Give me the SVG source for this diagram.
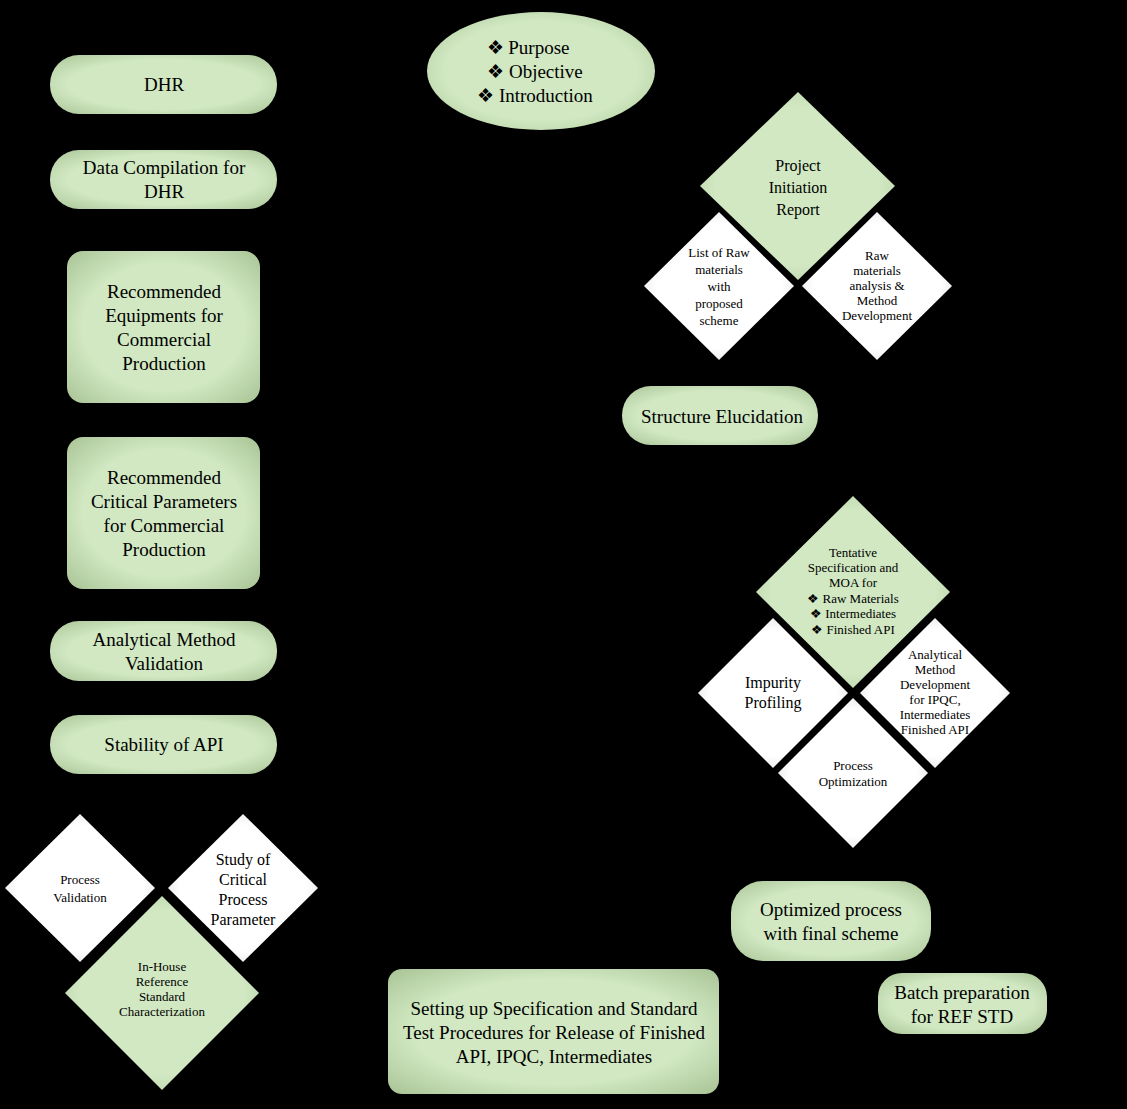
<svg xmlns="http://www.w3.org/2000/svg" width="1127" height="1109" viewBox="0 0 1127 1109">
<defs>
<radialGradient id="g" cx="50%" cy="50%" r="70%"><stop offset="0.6" stop-color="#d1e8c2"/><stop offset="1" stop-color="#a9c496"/></radialGradient>
<radialGradient id="w" cx="50%" cy="50%" r="70%"><stop offset="0.6" stop-color="#ffffff"/><stop offset="1" stop-color="#c8c8c8"/></radialGradient>
<style>
.g{fill:url(#g)}.w{fill:url(#w)}
text{font-family:"Liberation Serif","Times New Roman",serif;fill:#000;text-anchor:middle}
.l{font-size:19px}.s{font-size:13px}.m{font-size:16px}
</style>
</defs>
<rect width="1127" height="1109" fill="#000"/>
<g id="connectors"/>
<g id="dhr"><rect class="g" x="50" y="55" width="227" height="59" rx="29"/><text class="l" x="164" y="91">DHR</text></g>
<g id="datacomp"><rect class="g" x="50" y="150" width="227" height="59" rx="29"/><text class="l" x="164" y="174">Data Compilation for</text><text class="l" x="164" y="198">DHR</text></g>
<g id="equip"><rect class="g" x="67" y="251" width="193" height="152" rx="16"/><text class="l" x="164" y="298">Recommended</text><text class="l" x="164" y="322">Equipments  for</text><text class="l" x="164" y="346">Commercial</text><text class="l" x="164" y="370">Production</text></g>
<g id="critical"><rect class="g" x="67" y="437" width="193" height="152" rx="16"/><text class="l" x="164" y="484">Recommended</text><text class="l" x="164" y="508">Critical Parameters</text><text class="l" x="164" y="532">for Commercial</text><text class="l" x="164" y="556">Production</text></g>
<g id="amv"><rect class="g" x="50" y="621" width="227" height="60" rx="29"/><text class="l" x="164" y="646">Analytical Method</text><text class="l" x="164" y="670">Validation</text></g>
<g id="stability"><rect class="g" x="50" y="715" width="227" height="59" rx="29"/><text class="l" x="164" y="751">Stability of API</text></g>
<g id="purpose"><ellipse class="g" cx="541" cy="71" rx="114" ry="59"/><text class="l" x="528" y="54">❖ Purpose</text><text class="l" x="535" y="78">❖ Objective</text><text class="l" x="535" y="102">❖ Introduction</text></g>
<g id="listraw"><polygon class="w" points="719,212 794,286 719,360 644,286"/><text class="s" x="719" y="257">List of Raw</text><text class="s" x="719" y="274">materials</text><text class="s" x="719" y="291">with</text><text class="s" x="719" y="308">proposed</text><text class="s" x="719" y="325">scheme</text></g>
<g id="rawanalysis"><polygon class="w" points="877,212 952,286 877,360 802,286"/><text class="s" x="877" y="260">Raw</text><text class="s" x="877" y="275">materials</text><text class="s" x="877" y="290">analysis &amp;</text><text class="s" x="877" y="305">Method</text><text class="s" x="877" y="320">Development</text></g>
<g id="pir"><polygon class="g" points="798,92 895,186 798,280 700,186"/><text class="m" x="798" y="171">Project</text><text class="m" x="798" y="193">Initiation</text><text class="m" x="798" y="215">Report</text></g>
<g id="structure"><rect class="g" x="622" y="386" width="196" height="59" rx="29"/><text class="l" x="722" y="423">Structure Elucidation</text></g>
<g id="impurity"><polygon class="w" points="773,618 848,693 773,768 698,693"/><text class="m" x="773" y="688">Impurity</text><text class="m" x="773" y="708">Profiling</text></g>
<g id="amd"><polygon class="w" points="935,618 1010,693 935,768 860,693"/><text class="s" x="935" y="659">Analytical</text><text class="s" x="935" y="674">Method</text><text class="s" x="935" y="689">Development</text><text class="s" x="935" y="704">for IPQC,</text><text class="s" x="935" y="719">Intermediates</text><text class="s" x="935" y="734">Finished API</text></g>
<g id="procopt"><polygon class="w" points="853,698 928,773 853,848 778,773"/><text class="s" x="853" y="770">Process</text><text class="s" x="853" y="786">Optimization</text></g>
<g id="tentative"><polygon class="g" points="853,496 950,592 853,688 756,592"/><text class="s" x="853" y="557">Tentative</text><text class="s" x="853" y="572">Specification and</text><text class="s" x="853" y="587">MOA for</text><text class="s" x="853" y="603">❖ Raw Materials</text><text class="s" x="853" y="618">❖ Intermediates</text><text class="s" x="853" y="634">❖ Finished API</text></g>
<g id="optimized"><rect class="g" x="731" y="881" width="200" height="80" rx="32"/><text class="l" x="831" y="916">Optimized process</text><text class="l" x="831" y="940">with final scheme</text></g>
<g id="batch"><rect class="g" x="878" y="973" width="169" height="61" rx="24"/><text class="l" x="962" y="999">Batch preparation</text><text class="l" x="962" y="1023">for REF STD</text></g>
<g id="setting"><rect class="g" x="388" y="969" width="331" height="125" rx="14"/><text class="l" x="554" y="1015">Setting up Specification and Standard</text><text class="l" x="554" y="1039">Test Procedures for Release of Finished</text><text class="l" x="554" y="1063">API, IPQC, Intermediates</text></g>
<g id="pv"><polygon class="w" points="80,814 155,888 80,962 5,888"/><text class="s" x="80" y="884">Process</text><text class="s" x="80" y="902">Validation</text></g>
<g id="study"><polygon class="w" points="243,814 318,888 243,962 168,888"/><text class="m" x="243" y="865">Study of</text><text class="m" x="243" y="885">Critical</text><text class="m" x="243" y="905">Process</text><text class="m" x="243" y="925">Parameter</text></g>
<g id="inhouse"><polygon class="g" points="162,896 259,993 162,1090 65,993"/><text class="s" x="162" y="971">In-House</text><text class="s" x="162" y="986">Reference</text><text class="s" x="162" y="1001">Standard</text><text class="s" x="162" y="1016">Characterization</text></g>
</svg>
